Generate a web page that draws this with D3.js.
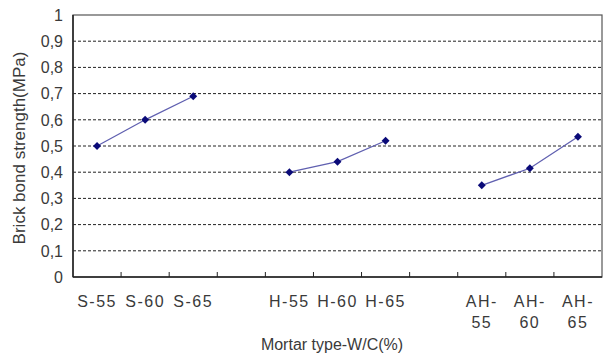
<!DOCTYPE html>
<html>
<head>
<meta charset="utf-8">
<script src="https://cdn.jsdelivr.net/npm/d3@7/dist/d3.min.js"></script>
<style>
  body { margin: 0; background: #fff; }
  text { font-family: "Liberation Sans", Arial, sans-serif; fill: #3a3a3a; }
</style>
</head>
<body>
<div id="chart"></div>
<script>
// categories ("" = empty gap slot between groups)
const categories = ["S-55", "S-60", "S-65", "", "H-55", "H-60", "H-65", "", "AH-55", "AH-60", "AH-65"];
const strength = [0.50, 0.60, 0.69, null, 0.40, 0.44, 0.52, null, 0.35, 0.415, 0.535];
const yTicks = [0, 0.1, 0.2, 0.3, 0.4, 0.5, 0.6, 0.7, 0.8, 0.9, 1];

const width = 603, height = 355;
const margin = { top: 15, right: 1, bottom: 78, left: 73 };
const iw = width - margin.left - margin.right;
const ih = height - margin.top - margin.bottom;

const svg = d3.select("#chart").append("svg")
  .attr("width", width)
  .attr("height", height);

const g = svg.append("g").attr("transform", `translate(${margin.left},${margin.top})`);

const x = d3.scaleBand().domain(d3.range(categories.length)).range([0, iw]);
const y = d3.scaleLinear().domain([0, 1]).range([ih, 0]);

// dashed gridlines
g.selectAll(".grid")
  .data(yTicks.filter(d => d > 0 && d < 1))
  .enter().append("line")
  .attr("x1", 0).attr("x2", iw)
  .attr("y1", d => y(d)).attr("y2", d => y(d))
  .attr("stroke", "#222")
  .attr("stroke-width", 1)
  .attr("stroke-dasharray", "3,2");

// plot frame
g.append("rect")
  .attr("width", iw).attr("height", ih)
  .attr("fill", "none")
  .attr("stroke", "#555")
  .attr("stroke-width", 1.2);
g.append("line").attr("x1", 0).attr("x2", 0).attr("y1", 0).attr("y2", ih)
  .attr("stroke", "#222").attr("stroke-width", 1.5);
g.append("line").attr("x1", 0).attr("x2", iw).attr("y1", ih).attr("y2", ih)
  .attr("stroke", "#222").attr("stroke-width", 1.5);

// y tick labels
g.selectAll(".ylab")
  .data(yTicks)
  .enter().append("text")
  .attr("x", -10)
  .attr("y", d => y(d))
  .attr("dy", "0.36em")
  .attr("text-anchor", "end")
  .style("font-size", "16px")
  .text(d => d === 0 || d === 1 ? String(d) : d.toFixed(1).replace(".", ","));

// x ticks at band boundaries, pointing inward
g.selectAll(".xtick")
  .data(d3.range(1, categories.length))
  .enter().append("line")
  .attr("x1", d => x(d)).attr("x2", d => x(d))
  .attr("y1", ih).attr("y2", ih - 5)
  .attr("stroke", "#222");

// x labels (AH- labels wrap in two lines)
const xl = g.selectAll(".xlab")
  .data(categories.map((c, i) => ({ c, i })).filter(d => d.c !== ""))
  .enter().append("text")
  .attr("text-anchor", "middle")
  .attr("transform", d => `translate(${x(d.i) + x.bandwidth() / 2},${ih + 30})`)
  .style("font-size", "16px")
  .style("letter-spacing", "1.5px");
xl.each(function(d) {
  const t = d3.select(this);
  if (d.c.startsWith("AH")) {
    const parts = d.c.split("-");
    t.append("tspan").attr("x", 0).attr("dy", 0).text(parts[0] + "-");
    t.append("tspan").attr("x", 0).attr("dy", 21).text(parts[1]);
  } else {
    t.append("tspan").attr("x", 0).text(d.c);
  }
});

// series line (broken at empty slots)
const line = d3.line()
  .defined(d => d != null)
  .x((d, i) => x(i) + x.bandwidth() / 2)
  .y(d => y(d));

g.append("path")
  .datum(strength)
  .attr("fill", "none")
  .attr("stroke", "#6060b0")
  .attr("stroke-width", 1.3)
  .attr("d", line);

// diamond markers
const pts = strength.map((v, i) => ({ v, i })).filter(d => d.v != null);
g.selectAll(".pt")
  .data(pts)
  .enter().append("path")
  .attr("d", d3.symbol().type(d3.symbolDiamond2).size(40))
  .attr("transform", d => `translate(${x(d.i) + x.bandwidth() / 2},${y(d.v)})`)
  .attr("fill", "#0a0a78");

// axis titles
svg.append("text")
  .attr("transform", "translate(25,148) rotate(-90)")
  .attr("text-anchor", "middle")
  .style("font-size", "17px")
  .text("Brick bond strength(MPa)");

svg.append("text")
  .attr("x", 332)
  .attr("y", 350)
  .attr("text-anchor", "middle")
  .style("font-size", "16px")
  .text("Mortar type-W/C(%)");
</script>
</body>
</html>
